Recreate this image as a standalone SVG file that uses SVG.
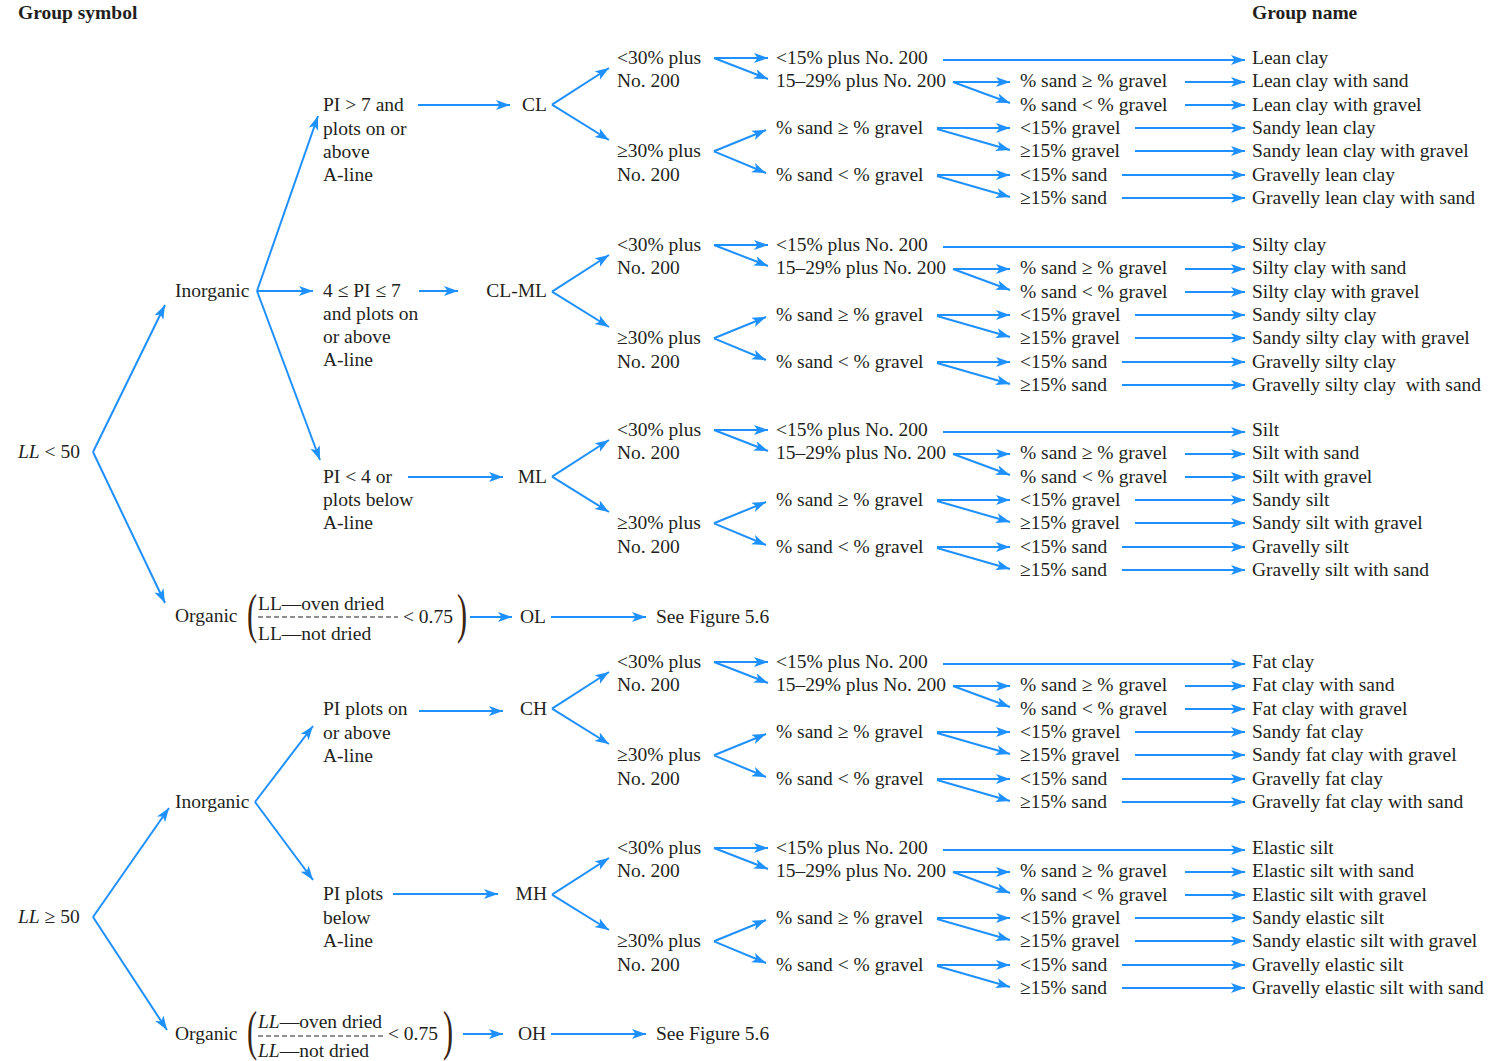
<svg xmlns="http://www.w3.org/2000/svg" xmlns:xlink="http://www.w3.org/1999/xlink" width="1488" height="1061" viewBox="0 0 1488 1061">
<defs>
<style>
text{font-family:"Liberation Serif","Times New Roman",serif;font-size:19.5px;fill:#231f20}
.hd{font-weight:bold}
.it{font-style:italic}
.c line{stroke:#1e90ff;stroke-width:2;fill:none;marker-end:url(#ah)}
.dash{stroke:#231f20;stroke-width:1;stroke-dasharray:5 3}
.par{font-size:55px;fill:#3a2412}
</style>
<marker id="ah" markerUnits="userSpaceOnUse" markerWidth="16" markerHeight="12" refX="14" refY="5" orient="auto">
<path d="M0,0 L14,5 L0,10 L3.5,5 z" fill="#1e90ff"/>
</marker>
<g id="blockArrows" stroke="#1e90ff" stroke-width="2" fill="none" marker-end="url(#ah)">
<line x1="552" y1="46.7" x2="609" y2="10"/>
<line x1="552" y1="46.7" x2="609" y2="82"/>
<line x1="714" y1="0" x2="768" y2="0"/>
<line x1="714" y1="0" x2="768" y2="21"/>
<line x1="714" y1="93.3" x2="766" y2="72"/>
<line x1="714" y1="93.3" x2="766" y2="115"/>
<line x1="943" y1="2" x2="1245" y2="2"/>
<line x1="953" y1="24" x2="1010" y2="24"/>
<line x1="953" y1="24" x2="1010" y2="45"/>
<line x1="937" y1="70" x2="1010" y2="70"/>
<line x1="937" y1="71" x2="1010" y2="92"/>
<line x1="937" y1="117" x2="1010" y2="117"/>
<line x1="937" y1="118" x2="1010" y2="139"/>
<line x1="1185" y1="24" x2="1245" y2="24"/>
<line x1="1185" y1="47" x2="1245" y2="47"/>
<line x1="1135" y1="70" x2="1245" y2="70"/>
<line x1="1135" y1="93" x2="1245" y2="93"/>
<line x1="1122" y1="117" x2="1245" y2="117"/>
<line x1="1122" y1="140" x2="1245" y2="140"/>
</g>
<g id="blockTexts">
<text x="617" y="6">&lt;30% plus</text>
<text x="617" y="29.3">No. 200</text>
<text x="617" y="99.3">≥30% plus</text>
<text x="617" y="122.7">No. 200</text>
<text x="776" y="6">&lt;15% plus No. 200</text>
<text x="776" y="29.3">15–29% plus No. 200</text>
<text x="776" y="76">% sand ≥ % gravel</text>
<text x="776" y="122.7">% sand &lt; % gravel</text>
<text x="1020" y="29.3">% sand ≥ % gravel</text>
<text x="1020" y="52.7">% sand &lt; % gravel</text>
<text x="1020" y="76">&lt;15% gravel</text>
<text x="1020" y="99.3">≥15% gravel</text>
<text x="1020" y="122.7">&lt;15% sand</text>
<text x="1020" y="146">≥15% sand</text>
</g>
</defs>

<g id="headers">
<text class="hd" x="18" y="19">Group symbol</text>
<text class="hd" x="1252" y="19">Group name</text>
</g>

<g id="connectors" class="c">
<line x1="93" y1="452" x2="165" y2="305"/>
<line x1="93" y1="452" x2="165" y2="603"/>
<line x1="257" y1="291" x2="318" y2="116"/>
<line x1="257" y1="291" x2="313" y2="291"/>
<line x1="257" y1="291" x2="320" y2="460"/>
<line x1="93" y1="917" x2="169" y2="808"/>
<line x1="93" y1="917" x2="167" y2="1030"/>
<line x1="255" y1="802" x2="313" y2="726"/>
<line x1="255" y1="802" x2="313" y2="880"/>
<line x1="418" y1="105" x2="510" y2="105"/>
<line x1="419" y1="291" x2="458" y2="291"/>
<line x1="408" y1="477" x2="503" y2="477"/>
<line x1="419" y1="711" x2="503" y2="711"/>
<line x1="393" y1="894" x2="498" y2="894"/>
<line x1="470" y1="617" x2="512" y2="617"/>
<line x1="551" y1="617" x2="646" y2="617"/>
<line x1="463" y1="1034" x2="503" y2="1034"/>
<line x1="551" y1="1034" x2="646" y2="1034"/>
<use xlink:href="#blockArrows" href="#blockArrows" y="58"/>
<use xlink:href="#blockArrows" href="#blockArrows" y="245"/>
<use xlink:href="#blockArrows" href="#blockArrows" y="430"/>
<use xlink:href="#blockArrows" href="#blockArrows" y="662"/>
<use xlink:href="#blockArrows" href="#blockArrows" y="848"/>
</g>

<g id="ll-lt-50"><text x="18" y="458"><tspan class="it">LL</tspan> &lt; 50</text></g>
<g id="inorganic-1"><text x="175" y="297">Inorganic</text></g>
<g id="organic-1">
<text x="175" y="622">Organic</text>
<text class="par" transform="translate(247,632) scale(0.55,1)">(</text>
<text x="258" y="610">LL—oven dried</text>
<line class="dash" x1="258" y1="617" x2="398" y2="617"/>
<text x="258" y="640">LL—not dried</text>
<text x="403" y="623">&lt; 0.75</text>
<text class="par" transform="translate(457,632) scale(0.55,1)">)</text>
</g>
<g id="ol"><text x="520" y="623">OL</text></g>
<g id="see-1"><text x="656" y="623">See Figure 5.6</text></g>

<g id="ll-ge-50"><text x="18" y="923"><tspan class="it">LL</tspan> ≥ 50</text></g>
<g id="inorganic-2"><text x="175" y="808">Inorganic</text></g>
<g id="organic-2">
<text x="175" y="1040">Organic</text>
<text class="par" transform="translate(247,1049) scale(0.55,1)">(</text>
<text x="258" y="1028"><tspan class="it">LL</tspan>—oven dried</text>
<line class="dash" x1="258" y1="1036" x2="385" y2="1036"/>
<text x="258" y="1057"><tspan class="it">LL</tspan>—not dried</text>
<text x="388" y="1040">&lt; 0.75</text>
<text class="par" transform="translate(443,1049) scale(0.55,1)">)</text>
</g>
<g id="oh"><text x="518" y="1040">OH</text></g>
<g id="see-2"><text x="656" y="1040">See Figure 5.6</text></g>

<g id="cond-cl">
<text x="323" y="111">PI &gt; 7 and</text>
<text x="323" y="135">plots on or</text>
<text x="323" y="158">above</text>
<text x="323" y="181">A-line</text>
</g>
<g id="cond-clml">
<text x="323" y="297">4 ≤ PI ≤ 7</text>
<text x="323" y="320">and plots on</text>
<text x="323" y="343">or above</text>
<text x="323" y="366">A-line</text>
</g>
<g id="cond-ml">
<text x="323" y="483">PI &lt; 4 or</text>
<text x="323" y="506">plots below</text>
<text x="323" y="529">A-line</text>
</g>
<g id="cond-ch">
<text x="323" y="715">PI plots on</text>
<text x="323" y="739">or above</text>
<text x="323" y="762">A-line</text>
</g>
<g id="cond-mh">
<text x="323" y="900">PI plots</text>
<text x="323" y="924">below</text>
<text x="323" y="947">A-line</text>
</g>

<g id="sym-cl"><text x="547" y="111" text-anchor="end">CL</text></g>
<g id="sym-clml"><text x="547" y="297" text-anchor="end">CL-ML</text></g>
<g id="sym-ml"><text x="547" y="483" text-anchor="end">ML</text></g>
<g id="sym-ch"><text x="547" y="715" text-anchor="end">CH</text></g>
<g id="sym-mh"><text x="547" y="900" text-anchor="end">MH</text></g>

<g id="block-cl" transform="translate(0,58)">
<use xlink:href="#blockTexts" href="#blockTexts"/>
<g id="names-cl">
<text x="1252" y="6">Lean clay</text>
<text x="1252" y="29.3">Lean clay with sand</text>
<text x="1252" y="52.7">Lean clay with gravel</text>
<text x="1252" y="76">Sandy lean clay</text>
<text x="1252" y="99.3">Sandy lean clay with gravel</text>
<text x="1252" y="122.7">Gravelly lean clay</text>
<text x="1252" y="146">Gravelly lean clay with sand</text>
</g>
</g>
<g id="block-clml" transform="translate(0,245)">
<use xlink:href="#blockTexts" href="#blockTexts"/>
<g id="names-clml">
<text x="1252" y="6">Silty clay</text>
<text x="1252" y="29.3">Silty clay with sand</text>
<text x="1252" y="52.7">Silty clay with gravel</text>
<text x="1252" y="76">Sandy silty clay</text>
<text x="1252" y="99.3">Sandy silty clay with gravel</text>
<text x="1252" y="122.7">Gravelly silty clay</text>
<text x="1252" y="146" xml:space="preserve">Gravelly silty clay  with sand</text>
</g>
</g>
<g id="block-ml" transform="translate(0,430)">
<use xlink:href="#blockTexts" href="#blockTexts"/>
<g id="names-ml">
<text x="1252" y="6">Silt</text>
<text x="1252" y="29.3">Silt with sand</text>
<text x="1252" y="52.7">Silt with gravel</text>
<text x="1252" y="76">Sandy silt</text>
<text x="1252" y="99.3">Sandy silt with gravel</text>
<text x="1252" y="122.7">Gravelly silt</text>
<text x="1252" y="146">Gravelly silt with sand</text>
</g>
</g>
<g id="block-ch" transform="translate(0,662)">
<use xlink:href="#blockTexts" href="#blockTexts"/>
<g id="names-ch">
<text x="1252" y="6">Fat clay</text>
<text x="1252" y="29.3">Fat clay with sand</text>
<text x="1252" y="52.7">Fat clay with gravel</text>
<text x="1252" y="76">Sandy fat clay</text>
<text x="1252" y="99.3">Sandy fat clay with gravel</text>
<text x="1252" y="122.7">Gravelly fat clay</text>
<text x="1252" y="146">Gravelly fat clay with sand</text>
</g>
</g>
<g id="block-mh" transform="translate(0,848)">
<use xlink:href="#blockTexts" href="#blockTexts"/>
<g id="names-mh">
<text x="1252" y="6">Elastic silt</text>
<text x="1252" y="29.3">Elastic silt with sand</text>
<text x="1252" y="52.7">Elastic silt with gravel</text>
<text x="1252" y="76">Sandy elastic silt</text>
<text x="1252" y="99.3">Sandy elastic silt with gravel</text>
<text x="1252" y="122.7">Gravelly elastic silt</text>
<text x="1252" y="146">Gravelly elastic silt with sand</text>
</g>
</g>
</svg>
